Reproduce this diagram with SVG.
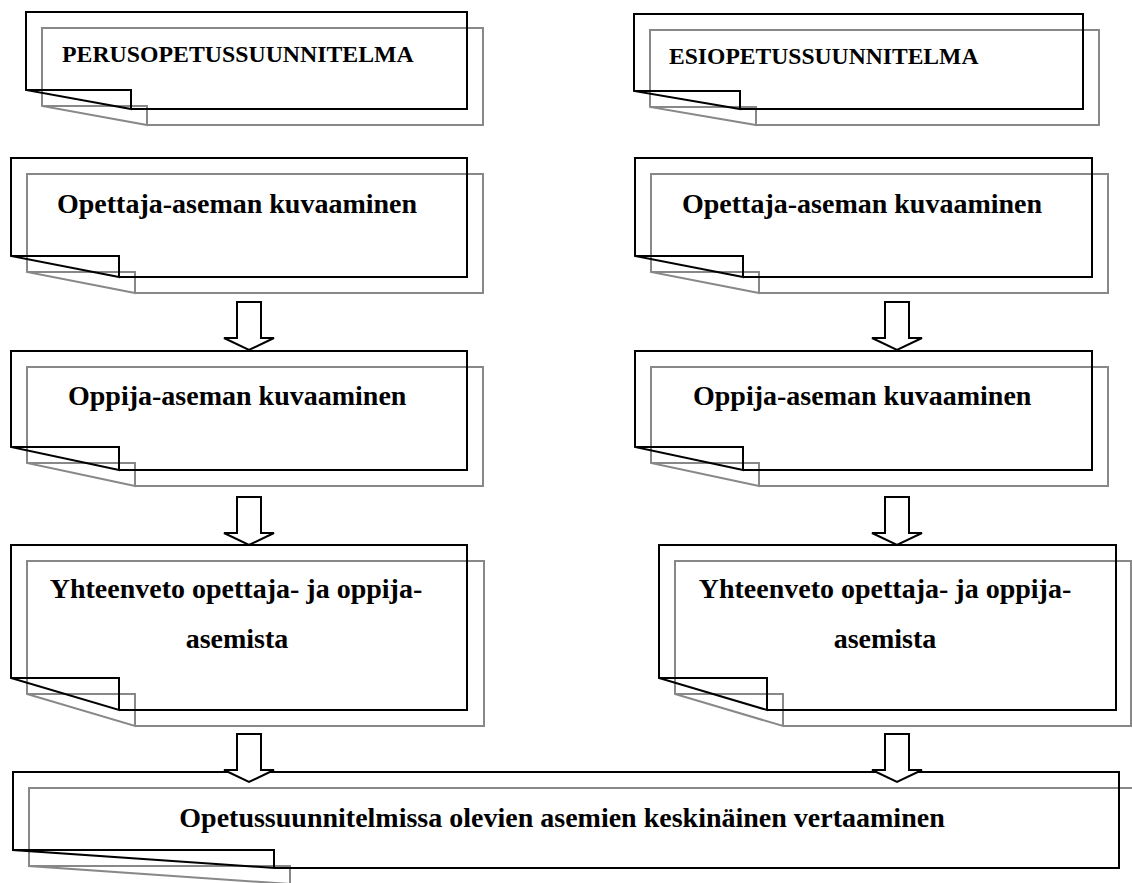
<svg xmlns="http://www.w3.org/2000/svg" width="1132" height="883" viewBox="0 0 1132 883">
<style>
.bk{fill:none;stroke:#000;stroke-width:2;stroke-linejoin:miter}
.gr{fill:none;stroke:#888;stroke-width:2;stroke-linejoin:miter}
.t{font-family:"Liberation Serif","Times New Roman",serif;font-weight:bold;fill:#000}
.arr{fill:#fff;stroke:#000;stroke-width:2;stroke-linejoin:miter}
</style>
<rect width="1132" height="883" fill="#fff"/>
<g id="n1">
<path class="gr" d="M147,125 H483 V28 H42 V106 L147,125 V106 H42"/>
<path class="bk" d="M131,109 H467 V12 H26 V90 L131,109 V90 H26"/>
<text class="t" x="62" y="62" font-size="23.8">PERUSOPETUSSUUNNITELMA</text>
</g>
<g id="n2">
<path class="gr" d="M756,125 H1099 V30 H650 V107 L756,125 V107 H650"/>
<path class="bk" d="M740,109 H1083 V14 H634 V91 L740,109 V91 H634"/>
<text class="t" x="669" y="64" font-size="23.6">ESIOPETUSSUUNNITELMA</text>
</g>
<g id="n3">
<path class="gr" d="M135,293 H483 V174 H27 V272 L135,293 V272 H27"/>
<path class="bk" d="M119,277 H467 V158 H11 V256 L119,277 V256 H11"/>
<text class="t" x="57" y="213" font-size="28">Opettaja-aseman kuvaaminen</text>
</g>
<g id="n4">
<path class="gr" d="M759,293 H1108 V174 H651 V272 L759,293 V272 H651"/>
<path class="bk" d="M743,277 H1092 V158 H635 V256 L743,277 V256 H635"/>
<text class="t" x="682" y="213" font-size="28">Opettaja-aseman kuvaaminen</text>
</g>
<g id="n5">
<path class="gr" d="M135,486 H483 V367 H27 V463 L135,486 V463 H27"/>
<path class="bk" d="M119,470 H467 V351 H11 V447 L119,470 V447 H11"/>
<text class="t" x="68" y="405" font-size="28">Oppija-aseman kuvaaminen</text>
</g>
<g id="n6">
<path class="gr" d="M759,486 H1108 V367 H651 V463 L759,486 V463 H651"/>
<path class="bk" d="M743,470 H1092 V351 H635 V447 L743,470 V447 H635"/>
<text class="t" x="693" y="405" font-size="28">Oppija-aseman kuvaaminen</text>
</g>
<g id="n7">
<path class="gr" d="M135,726 H484 V561 H27 V694 L135,726 V694 H27"/>
<path class="bk" d="M119,710 H467 V545 H11 V678 L119,710 V678 H11"/>
<text class="t" x="236" y="598" font-size="28" text-anchor="middle">Yhteenveto opettaja- ja oppija-</text>
<text class="t" x="237" y="648" font-size="28" text-anchor="middle">asemista</text>
</g>
<g id="n8">
<path class="gr" d="M783,726 H1131 V561 H675 V694 L783,726 V694 H675"/>
<path class="bk" d="M767,710 H1116 V545 H659 V678 L767,710 V678 H659"/>
<text class="t" x="885" y="598" font-size="28" text-anchor="middle">Yhteenveto opettaja- ja oppija-</text>
<text class="t" x="885" y="648" font-size="28" text-anchor="middle">asemista</text>
</g>
<g id="n9">
<path class="gr" d="M290,884 H1136 V788 H29 V866 L290,884 V866 H29"/>
<path class="bk" d="M274,868 H1119 V772 H13 V850 L274,868 V850 H13"/>
<text class="t" x="562" y="827" font-size="28" text-anchor="middle">Opetussuunnitelmissa olevien asemien keskinäinen vertaaminen</text>
</g>
<g id="connectors">
<path class="arr" d="M237,302 H261 V338 H274 L249,350 L224,338 H237 Z"/>
<path class="arr" d="M885,302 H909 V338 H922 L897,350 L872,338 H885 Z"/>
<path class="arr" d="M237,497 H261 V533 H274 L249,545 L224,533 H237 Z"/>
<path class="arr" d="M885,497 H909 V533 H922 L897,545 L872,533 H885 Z"/>
<path class="arr" d="M237,734 H261 V770 H274 L249,782 L224,770 H237 Z"/>
<path class="arr" d="M885,734 H909 V770 H922 L897,782 L872,770 H885 Z"/>
</g>
</svg>
